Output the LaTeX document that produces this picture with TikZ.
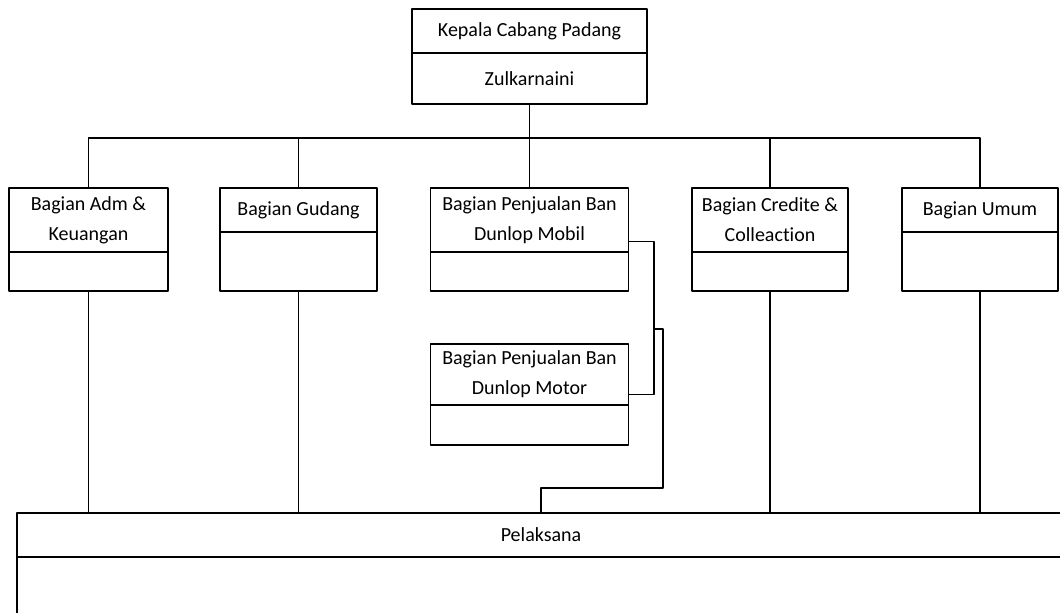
\documentclass[tikz,border=0pt]{standalone}
\usepackage{fontspec}
\setmainfont{Carlito}[Ligatures=NoCommon]
\begin{document}
\begin{tikzpicture}[x=0.75pt,y=-0.75pt,line join=round,line cap=round,line width=.9pt,
		font=\fontsize{15}{22.5}\selectfont,
		part/.style 2 args={draw,align=center,inner sep=0pt,minimum width=#1,minimum height=#2}]
	\useasboundingbox (0,0) rectangle (1060,612);
	\fill[white] (0,0) rectangle (1060,612);
	\clip (0,0) rectangle (1060,612);
	\node[part={176.25pt}{33pt}] (kepala) at (529.5,31) {Kepala Cabang Padang};
	\node[part={176.25pt}{38.25pt}] (zul) at (529.5,78.5) {Zulkarnaini};
	\node[part={119.25pt}{48pt}] (adm) at (88.5,220) {Bagian Adm \&\\Keuangan};
	\node[part={119.25pt}{29.25pt}] (admB) at (88.5,271.5) {};
	\node[part={117.75pt}{33pt}] (gud) at (298.5,210) {Bagian Gudang};
	\node[part={117.75pt}{44.25pt}] (gudB) at (298.5,261.5) {};
	\node[part={148.5pt}{48pt}] (mob) at (529.5,220) {Bagian Penjualan Ban\\Dunlop Mobil};
	\node[part={148.5pt}{29.25pt}] (mobB) at (529.5,271.5) {};
	\node[part={117pt}{48pt}] (cred) at (770,220) {Bagian Credite \&\\Colleaction};
	\node[part={117pt}{29.25pt}] (credB) at (770,271.5) {};
	\node[part={117pt}{33pt}] (umum) at (980,210) {Bagian Umum};
	\node[part={117pt}{44.25pt}] (umumB) at (980,261.5) {};
	\node[part={148.5pt}{45.75pt}] (mot) at (529.5,374.5) {Bagian Penjualan Ban\\Dunlop Motor};
	\node[part={148.5pt}{30pt}] (motB) at (529.5,425) {};
	\node[part={786pt}{33pt}] (pel) at (541,535) {Pelaksana};
	\node[part={786pt}{75pt}] (pelB) at (541,607) {};
	\coordinate (bus) at (529.5,138);
	\coordinate (mx) at (654,329);
	\coordinate (px) at (541,488);
	\draw (zul.south)--(mob.north);
	\draw (adm.north) |- (bus) -| (umum.north);
	\foreach \n in {gud,cred} \draw (\n.north)--(\n.north |- bus);
	\foreach \n in {admB,gudB,credB,umumB} \draw (\n.south)--(\n.south |- pel.north);
	\draw ([yshift=8.25pt]mob.south east) -| (mx) |- ([yshift=8.25pt]mot.south east);
	\draw (mx)--(663,329) |- (px)--(pel.north);
\end{tikzpicture}
\end{document}
